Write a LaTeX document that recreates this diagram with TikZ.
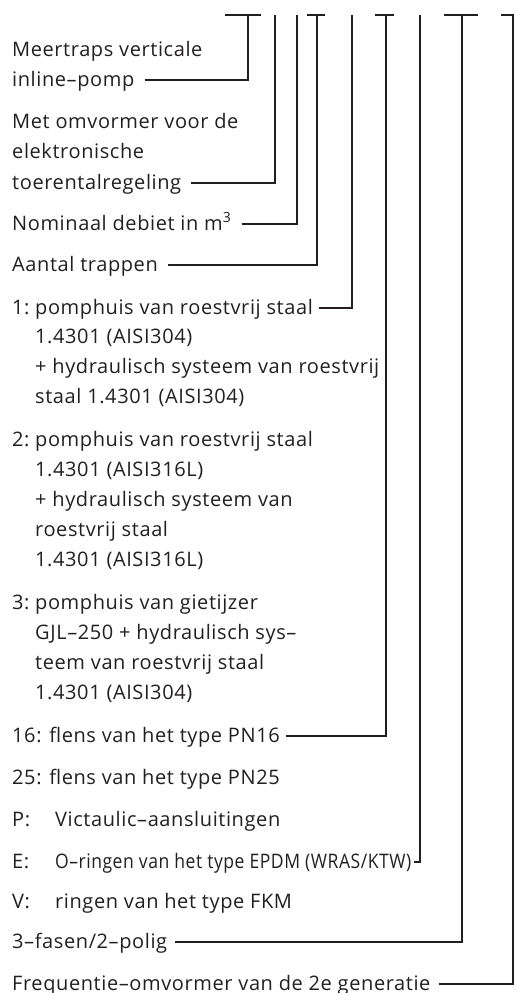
\documentclass[tikz,border=0pt]{standalone}
\usepackage{fontspec}
\setmainfont[LetterSpace=3]{Open Sans}
\definecolor{ink}{HTML}{231F20}

\begin{document}
\begin{tikzpicture}[x=1pt, y=-1pt, ink, font=\fontsize{20}{24}\selectfont,
        lbl/.style={anchor=base west, inner sep=0pt},
        wire/.style={line width=1.8pt}]
        \useasboundingbox (0,0) rectangle (516,993);

        \foreach \l/\r in {225/261, 307/325, 375/394, 444/478, 501/514}
            \draw[wire] (\l,15) -- (\r,15);
        \foreach \n/\x in {1/248, 2/275, 3/297, 4/317, 5/352, 6/386, 7/420, 8/462, 9/513}
            \coordinate (v\n) at (\x,15);

        \node[lbl] (typA) at (12,56) {Meertraps verticale};
        \node[lbl] (typB) at (12,86) {inline–pomp};
        \node[lbl] (omvA) at (12,128) {Met omvormer voor de};
        \node[lbl] (omvB) at (12,158) {elektronische};
        \node[lbl] (omvC) at (12,189) {toerentalregeling};
        \node[lbl] (debiet) at (12,230) {Nominaal debiet in m\textsuperscript{3}};
        \node[lbl] (trap) at (12,271) {Aantal trappen};

        \node[lbl] (k1) at (12,314) {1:};
        \node[lbl] (matA) at (35,314) {pomphuis van roestvrij staal};
        \node[lbl] (matB) at (35,343) {1.4301 (AISI304)};
        \node[lbl] (matC) at (35,373) {+ hydraulisch systeem van roestvrij};
        \node[lbl] (matD) at (35,403) {staal 1.4301 (AISI304)};
        \node[lbl] (k2) at (12,446) {2:};
        \node[lbl] (matE) at (35,446) {pomphuis van roestvrij staal};
        \node[lbl] (matF) at (35,476) {1.4301 (AISI316L)};
        \node[lbl] (matG) at (35,506) {+ hydraulisch systeem van};
        \node[lbl] (matH) at (35,536) {roestvrij staal};
        \node[lbl] (matI) at (35,566) {1.4301 (AISI316L)};
        \node[lbl] (k3) at (12,609) {3:};
        \node[lbl] (matJ) at (35,609) {pomphuis van gietijzer};
        \node[lbl] (matK) at (35,639) {GJL–250 + hydraulisch sys–};
        \node[lbl] (matL) at (35,669) {teem van roestvrij staal};
        \node[lbl] (matM) at (35,699) {1.4301 (AISI304)};

        \node[lbl] (pn16) at (12,742) {16: flens van het type PN16};
        \node[lbl] (pn25) at (12,784) {25: flens van het type PN25};
        \node[lbl] (kP) at (12,826) {P:};
        \node[lbl] (vict) at (55,826) {Victaulic–aansluitingen};
        \node[lbl] (kE) at (12,868) {E:};
        \node[lbl] (epdm) at (55,868) {\resizebox{356pt}{\height}{O–ringen van het type EPDM (WRAS/KTW)}};
        \node[lbl] (kV) at (12,908) {V:};
        \node[lbl] (fkm) at (55,908) {ringen van het type FKM};
        \node[lbl] (fase) at (12,948) {3–fasen/2–polig};
        \node[lbl] (freq) at (12,990) {Frequentie–omvormer van de 2e generatie};

        \draw[wire] ([shift={(10pt,6pt)}]typB.base east) -| (v1);
        \draw[wire] ([shift={(10pt,6pt)}]omvC.base east) -| (v2);
        \draw[wire] ([shift={(10pt,6pt)}]debiet.base east) -| (v3);
        \draw[wire] ([shift={(10pt,6pt)}]trap.base east) -| (v4);
        \draw[wire] ([shift={(6pt,6pt)}]matA.base east) -| (v5);
        \draw[wire] ([shift={(6pt,6pt)}]pn16.base east) -| (v6);
        \draw[wire] ([shift={(3pt,6pt)}]epdm.base east) -| (v7);
        \draw[wire] ([shift={(8pt,6pt)}]fase.base east) -| (v8);
        \draw[wire] ([shift={(8pt,6pt)}]freq.base east) -| (v9);
\end{tikzpicture}
\end{document}
